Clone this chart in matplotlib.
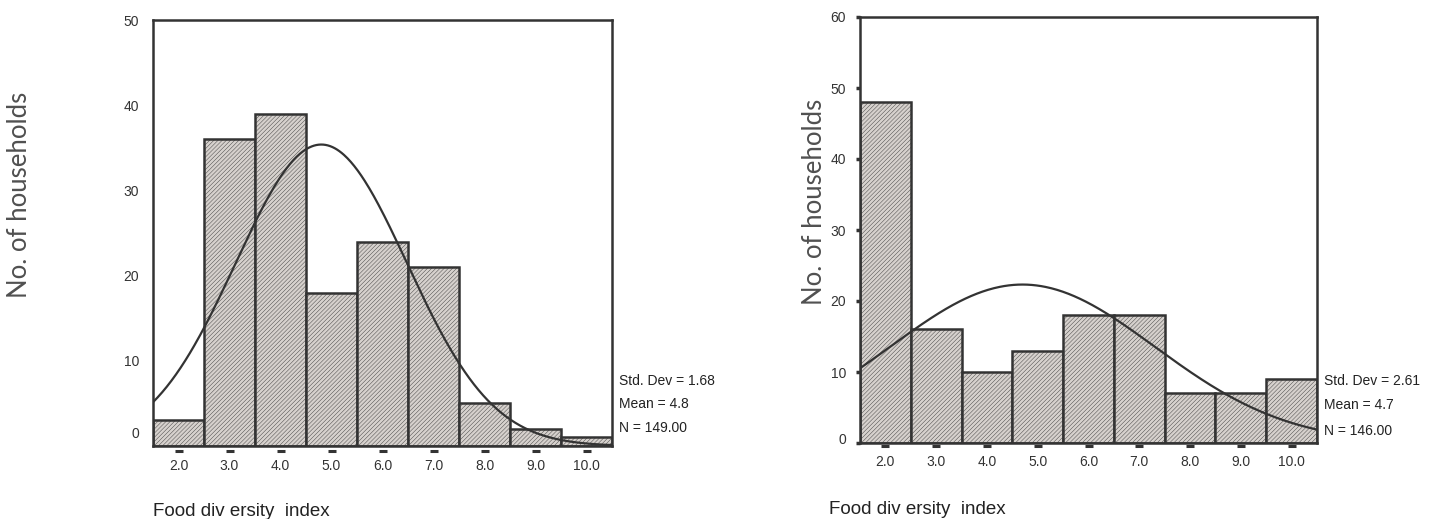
import numpy as np
import matplotlib
matplotlib.use("Agg")
import matplotlib.pyplot as plt
from matplotlib.transforms import ScaledTranslation, blended_transform_factory

# ---- data ----
categories = [2.0, 3.0, 4.0, 5.0, 6.0, 7.0, 8.0, 9.0, 10.0]
tick_labels = ["2.0", "3.0", "4.0", "5.0", "6.0", "7.0", "8.0", "9.0", "10.0"]
counts_left = [3, 36, 39, 18, 24, 21, 5, 2, 1]
counts_right = [48, 16, 10, 13, 18, 18, 7, 7, 9]
stats_left = {"sd": 1.68, "mean": 4.8, "n": 149}
stats_right = {"sd": 2.61, "mean": 4.7, "n": 146}
yticks_left = [0, 10, 20, 30, 40, 50]
yticks_right = [0, 10, 20, 30, 40, 50, 60]
ylabel = "No. of households"
xlabel = "Food div ersity  index"

plt.rcParams['hatch.linewidth'] = 0.3
plt.rcParams['hatch.color'] = '#c2bdb9'
plt.rcParams['font.family'] = ['Liberation Sans', 'DejaVu Sans']

fig = plt.figure(figsize=(14.29, 5.19), dpi=100)
W, H = 1429, 519

def fx(px):
    return px / W

def fy(py):
    return 1 - py / H

dark = '#333333'

def draw_panel(rect, counts, stats, yticks, ymax, ytick_marks, zero_raise, dash_gap, stat_x, stat_ys):
    ax = fig.add_axes(rect)
    ax.bar(categories, counts, width=1.0, color='#d6d1cd', edgecolor=dark,
           linewidth=1.8, hatch='////////', zorder=2)
    # fitted normal curve from stated mean / sd / N
    x = np.linspace(1.5, 10.5, 400)
    y = stats["n"] * 1.0 / (stats["sd"] * np.sqrt(2 * np.pi)) * np.exp(-0.5 * ((x - stats["mean"]) / stats["sd"]) ** 2)
    ax.plot(x, y, color=dark, linewidth=1.6, zorder=3)
    ax.set_xlim(1.5, 10.5)
    ax.set_ylim(0, ymax)
    for s in ax.spines.values():
        s.set_color(dark)
        s.set_linewidth(1.8)
    ax.set_yticks(yticks)
    ax.set_yticklabels([str(t) for t in yticks])
    if ytick_marks:
        ax.tick_params(axis='y', length=3, width=2.5, color=dark, pad=7,
                       labelsize=10, labelcolor='#333333')
    else:
        ax.tick_params(axis='y', length=0, pad=10, labelsize=10, labelcolor='#333333')
    ax.set_xticks(categories)
    ax.set_xticklabels(tick_labels)
    ax.tick_params(axis='x', length=0, pad=9, labelsize=10, labelcolor='#333333')
    # raise the "0" label a bit like the original
    lab0 = ax.yaxis.get_major_ticks()[0].label1
    lab0.set_transform(lab0.get_transform() + ScaledTranslation(0, zero_raise / 100, fig.dpi_scale_trans))
    # little dashes under the x axis
    tr = blended_transform_factory(ax.transData, ax.transAxes)
    ax.plot(categories, [-dash_gap / (rect[3] * H)] * len(categories), linestyle='none',
            marker='_', markersize=6, markeredgewidth=2.2, color=dark,
            transform=tr, clip_on=False)
    # stats text
    fig.text(fx(stat_x), fy(stat_ys[0]), f"Std. Dev = {stats['sd']:.2f}", fontsize=10,
             color='#222222', va='center', ha='left')
    fig.text(fx(stat_x), fy(stat_ys[1]), f"Mean = {stats['mean']:.1f}", fontsize=10,
             color='#222222', va='center', ha='left')
    fig.text(fx(stat_x), fy(stat_ys[2]), f"N = {stats['n']:.2f}", fontsize=10,
             color='#222222', va='center', ha='left')
    return ax

# left panel
axL = draw_panel([fx(153), fy(446), fx(612) - fx(153), fy(20) - fy(446)],
                 counts_left, stats_left, yticks_left, 50, False, 14, 5,
                 619, [381, 404, 428])
# right panel
axR = draw_panel([fx(860), fy(443), fx(1317) - fx(860), fy(17) - fy(443)],
                 counts_right, stats_right, yticks_right, 60, True, 5, 3,
                 1324, [381, 405, 431])

# y labels
fig.text(fx(20), fy(195), ylabel, rotation=90, fontsize=18.5, color='#505050',
         ha='center', va='center', fontfamily=['Lato', 'DejaVu Sans'])
fig.text(fx(815), fy(202), ylabel, rotation=90, fontsize=18.5, color='#505050',
         ha='center', va='center', fontfamily=['Lato', 'DejaVu Sans'])
# x labels
fig.text(fx(153), fy(511), xlabel, fontsize=13.5, color='#222222', ha='left', va='center')
fig.text(fx(829), fy(509), xlabel, fontsize=13.5, color='#222222', ha='left', va='center')

fig.savefig("out.png", dpi=100)
